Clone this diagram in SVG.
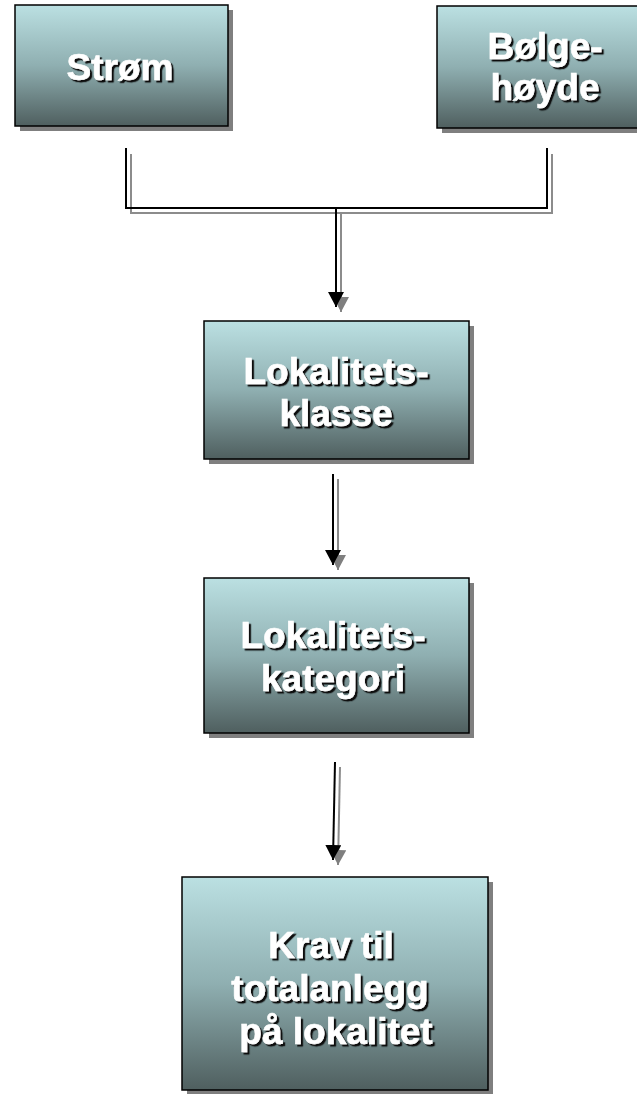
<svg xmlns="http://www.w3.org/2000/svg" width="637" height="1094" viewBox="0 0 637 1094">
<style>
.box{fill:url(#g);stroke:#000;stroke-width:1.5}
.sh{fill:#7f7f7f}
.t{font-family:"Liberation Sans",Arial,sans-serif;font-weight:bold;font-size:37px;fill:#fff;stroke:#fff;stroke-width:0.6;text-anchor:middle;filter:url(#ts)}
.ln{fill:none;stroke:#000;stroke-width:2}
.lns{fill:none;stroke:#8c8c8c;stroke-width:2}
</style>
<defs>
<linearGradient id="g" x1="0" y1="0" x2="0" y2="1">
<stop offset="0" stop-color="#bbe0e2"/>
<stop offset="0.5" stop-color="#8fafb1"/>
<stop offset="1" stop-color="#4f5f5f"/>
</linearGradient>
<filter id="ts" x="-10%" y="-20%" width="130%" height="150%">
<feDropShadow dx="2.2" dy="2.2" stdDeviation="0.7" flood-color="#111" flood-opacity="1"/>
</filter>
<marker id="ab" markerUnits="userSpaceOnUse" markerWidth="16" markerHeight="16" refX="15" refY="8" orient="auto" viewBox="0 0 16 16">
<path d="M0,0 L15,8 L0,16 Z" fill="#000"/>
</marker>
<marker id="ag" markerUnits="userSpaceOnUse" markerWidth="16" markerHeight="16" refX="15" refY="8" orient="auto" viewBox="0 0 16 16">
<path d="M0,0 L15,8 L0,16 Z" fill="#7f7f7f"/>
</marker>
</defs>
<g id="connectors">
<path class="lns" d="M131,154 V213 H552 V154 M341,213 V312" marker-end="url(#ag)"/>
<path class="ln" d="M126,148 V208 H547 V148 M336,208 V307" marker-end="url(#ab)"/>
<path class="lns" d="M338,479 V570" marker-end="url(#ag)"/>
<path class="ln" d="M333,474 V565" marker-end="url(#ab)"/>
<path class="lns" d="M340,767 L338,865" marker-end="url(#ag)"/>
<path class="ln" d="M335,762 L333,860" marker-end="url(#ab)"/>
</g>
<g id="strom">
<rect class="sh" x="20" y="10" width="213" height="121"/>
<rect class="box" x="15" y="5" width="213" height="121"/>
<text class="t" x="120" y="80">Strøm</text>
</g>
<g id="bolgehoyde">
<rect class="sh" x="442" y="11" width="216" height="122"/>
<rect class="box" x="437" y="6" width="216" height="122"/>
<text class="t" x="545" y="59">Bølge-</text>
<text class="t" x="545" y="100">høyde</text>
</g>
<g id="lokalitetsklasse">
<rect class="sh" x="209" y="326" width="265" height="138"/>
<rect class="box" x="204" y="321" width="265" height="138"/>
<text class="t" x="336" y="384">Lokalitets-</text>
<text class="t" x="336" y="426">klasse</text>
</g>
<g id="lokalitetskategori">
<rect class="sh" x="209" y="583" width="265" height="155"/>
<rect class="box" x="204" y="578" width="265" height="155"/>
<text class="t" x="333" y="648">Lokalitets-</text>
<text class="t" x="333" y="691">kategori</text>
</g>
<g id="krav">
<rect class="sh" x="187" y="882" width="306" height="213"/>
<rect class="box" x="182" y="877" width="306" height="213"/>
<text class="t" x="331" y="958">Krav til</text>
<text class="t" x="330" y="1001">totalanlegg</text>
<text class="t" x="336" y="1044">på lokalitet</text>
</g>
</svg>
